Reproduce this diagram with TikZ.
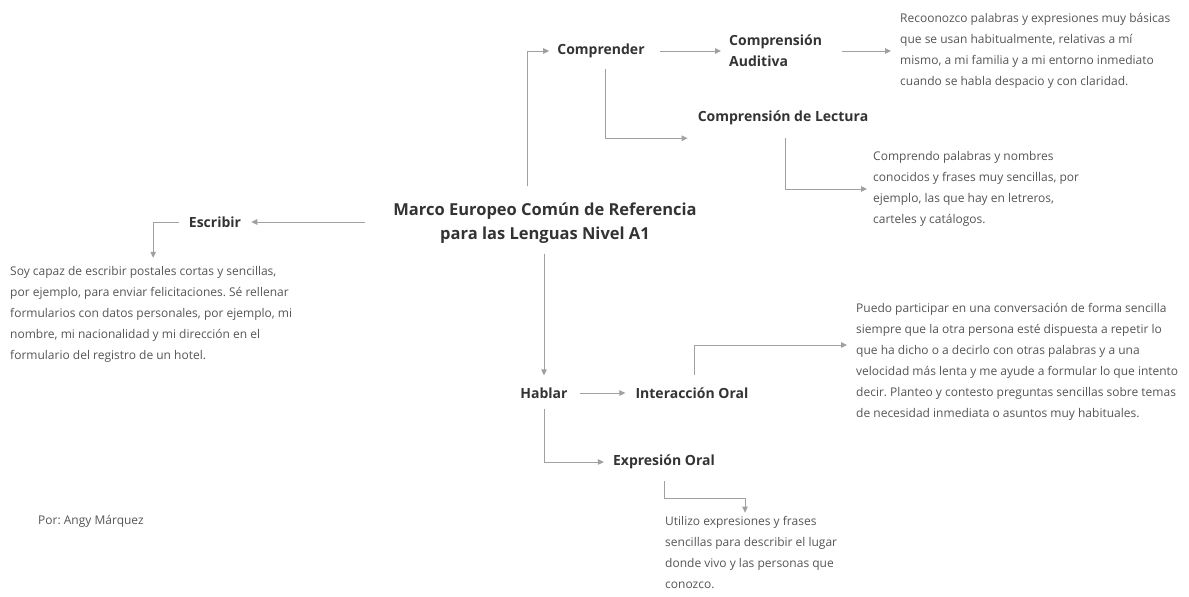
\documentclass[tikz,border=0pt]{standalone}
\usepackage{fontspec}
\setmainfont{Open Sans}
\usepackage{tikz}
\usetikzlibrary{arrows.meta, calc, positioning}
\frenchspacing

\definecolor{txtdark}{HTML}{333333}
\definecolor{txtgray}{HTML}{555555}
\definecolor{linegray}{HTML}{A0A0A0}

\begin{document}
\begin{tikzpicture}[x=1pt, y=-1pt]
\tikzset{head/.style={font=\fontsize{14}{21}\selectfont\bfseries, text=txtdark, inner sep=0pt, align=left},
  desc/.style={font=\fontsize{12}{21}\selectfont, text=txtgray, inner sep=0pt, align=left, anchor=west},
  link/.style={draw=linegray, line width=1pt, -{Triangle[length=6pt,width=5.5pt]}}}
  \useasboundingbox (0,0) rectangle (1189,597);

  % centre
  \node [head, font=\fontsize{16.5}{24}\selectfont\bfseries, align=center] (MA) at (545,223)
    {Marco Europeo Común de Referencia\\para las Lenguas Nivel A1};

  % comprender
  \node [head] (CO) at (601,51) {Comprender};
  \node [head, anchor=west] (CA) at (729,51) {Comprensión\\Auditiva};
  \node [head] (CL) at (783,118) {Comprensión de Lectura};
  \node [desc] (DA) at (900,51) {Recoonozco palabras y expresiones muy básicas\\
    que se usan habitualmente, relativas a mí\\
    mismo, a mi familia y a mi entorno inmediato\\
    cuando se habla despacio y con claridad.};
  \node [desc] (DL) at (873,189) {Comprendo palabras y nombres\\
    conocidos y frases muy sencillas, por\\
    ejemplo, las que hay en letreros,\\
    carteles y catálogos.};

  % escribir
  \node [head] (ES) at (215,222) {Escribir};
  \node [desc] (DE) at (10,314) {Soy capaz de escribir postales cortas y sencillas,\\
    por ejemplo, para enviar felicitaciones. Sé rellenar\\
    formularios con datos personales, por ejemplo, mi\\
    nombre, mi nacionalidad y mi dirección en el\\
    formulario del registro de un hotel.};

  % hablar
  \node [head] (HA) at (544,393) {Hablar};
  \node [head] (IO) at (692,393) {Interacción Oral};
  \node [head] (EO) at (664,462) {Expresión Oral};
  \node [desc] (DI) at (856,362) {Puedo participar en una conversación de forma sencilla\\
    siempre que la otra persona esté dispuesta a repetir lo\\
    que ha dicho o a decirlo con otras palabras y a una\\
    velocidad más lenta y me ayude a formular lo que intento\\
    decir. Planteo y contesto preguntas sencillas sobre temas\\
    de necesidad inmediata o asuntos muy habituales.};
  \node [desc] (DX) at (665,552) {Utilizo expresiones y frases\\
    sencillas para describir el lugar\\
    donde vivo y las personas que\\
    conozco.};

  \node [desc] (AU) at (38,521) {Por: Angy Márquez};

  \draw[link] ($(MA.north)+(-18,-16)$) |- ($(CO.west)+(-8,0)$);
  \draw[link] ($(CO.east)+(15,0)$) -- ($(CA.west)+(-8,0)$);
  \draw[link] ($(CA.east)+(20,0)$) -- ($(DA.west)+(-9,0)$);
  \draw[link] ($(CO.south)+(4,11)$) |- ($(CL.south west)+(-10,13)$);
  \draw[link] ($(CL.south)+(2,13)$) |- ($(DL.west)+(-6,0)$);
  \draw[link] ($(MA.west)+(-28,-1)$) -- ($(ES.east)+(10,0)$);
  \draw[link] ($(ES.west)+(-10,0)$) -| ($(DE.north)+(2,-8)$);
  \draw[link] ($(MA.south)+(-1,10)$) -- ($(HA.north)+(0,-12)$);
  \draw[link] ($(HA.east)+(12,0)$) -- ($(IO.west)+(-10,0)$);
  \draw[link] ($(IO.north)+(2,-12)$) |- ($(DI.west)+(-9,-17)$);
  \draw[link] ($(HA.south)+(0,10)$) |- ($(EO.west)+(-9,0)$);
  \draw[link] ($(EO.south)+(0,12)$) -- ++(0,17) -| ($(DX.north west)+(80,-3)$);
\end{tikzpicture}
\end{document}
